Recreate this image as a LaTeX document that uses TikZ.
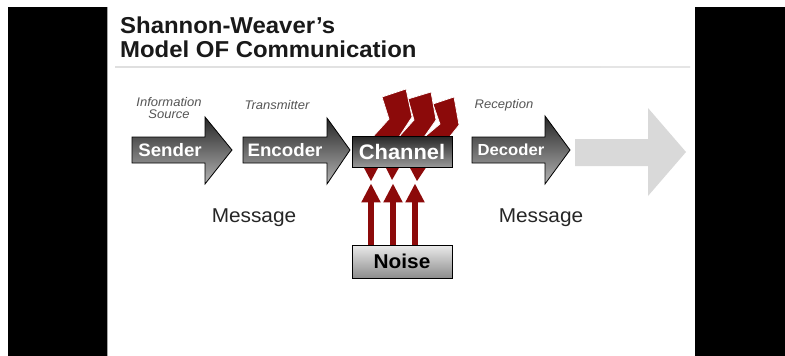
\documentclass[tikz,border=0pt]{standalone}
\usepackage{fontspec}
\setmainfont{Liberation Sans}[FakeStretch=1.04]
\usetikzlibrary{arrows.meta}

\definecolor{boltred}{RGB}{140,10,10}
\definecolor{rolegray}{RGB}{85,85,85}
\definecolor{ghost}{RGB}{217,217,217}

\tikzset{
  darkarrow/.style={draw=black,line width=0.8pt,line join=miter,top color=black!85,bottom color=black!30},
  steptext/.style={text=white,font=\bfseries\fontsize{18pt}{20pt}\selectfont,inner sep=0pt},
  role/.style={text=rolegray,font=\itshape\fontsize{12.5pt}{12pt}\selectfont,inner sep=0pt},
  msg/.style={text=black!85,font=\fontsize{20pt}{22pt}\selectfont,inner sep=0pt},
  bolt/.style={fill=boltred,draw=white,line width=0.7pt,line join=miter},
  noisearrow/.style={draw=boltred,line width=6pt,-{Triangle[width=18pt,length=19pt]},shorten >=16pt},
}

\begin{document}
\begin{tikzpicture}[x=1pt,y=-1pt]
  \useasboundingbox (0,0) rectangle (785,356);
  \fill[white] (0,0) rectangle (785,356);
  \fill[black] (8,7) rectangle (107,356);
  \fill[black] (695,7) rectangle (785,356);
  \draw[gray!70,line width=0.8pt] (107.5,7) -- (107.5,356);

  % title
  \node[anchor=base west,align=left,inner sep=0pt,text=black!90,
        font=\bfseries\fontsize{23pt}{23.4pt}\selectfont] (Title) at (120,57)
        {Shannon-Weaver’s\\Model OF Communication};
  \shade[left color=gray!25,middle color=gray!75,right color=gray!20] (115,66.3) rectangle (690,67.7);

  % role labels
  \node[role,align=center] (Source) at (169,108) {Information\\Source};
  \node[role,anchor=base] (Transmitter) at (277,109) {Transmitter};
  \node[role,anchor=base] (Reception) at (504,108) {Reception};

  % arrows
  \draw[darkarrow] (132,137) -- (205,137) -- (205,117) -- (232,150) -- (205,184) -- (205,163) -- (132,163) -- cycle;
  \node[steptext] (Sender) at (170,150) {Sender};
  \draw[darkarrow] (243,137) -- (327,137) -- (327,118) -- (350,150) -- (327,184) -- (327,163) -- (243,163) -- cycle;
  \node[steptext] (Encoder) at (285,150) {Encoder};
  \draw[darkarrow] (472,137) -- (545,137) -- (545,116) -- (570,150) -- (545,184) -- (545,163) -- (472,163) -- cycle;
  \node[steptext,font=\bfseries\fontsize{16pt}{18pt}\selectfont] (Decoder) at (511,150) {Decoder};
  \fill[ghost] (575,139) -- (648,139) -- (648,108) -- (686,152) -- (648,196) -- (648,166) -- (575,166) -- cycle;

  % noise bolts
  \draw[bolt] (433,104) -- (454,97) -- (459,125) -- (447,140) -- (421,140) -- (440,124) -- cycle;
  \draw[bolt] (408,99) -- (431,92) -- (436,120) -- (422,140) -- (396,140) -- (414,120) -- cycle;
  \draw[bolt] (382,97) -- (406,89) -- (412,117) -- (397,140) -- (370,140) -- (389,119) -- cycle;
  \fill[boltred] (363,166) -- (379,166) -- (371,181) -- cycle;
  \fill[boltred] (385,166) -- (400,166) -- (392,180) -- cycle;
  \fill[boltred] (409,166) -- (427,166) -- (417,181) -- cycle;

  \node[draw=black,line width=0.8pt,top color=black!85,bottom color=black!40,
        minimum width=100pt,minimum height=31pt,inner sep=0pt,text=white,
        font=\bfseries\fontsize{21pt}{23pt}\selectfont] (Channel) at (402,151.5) {Channel};

  \node[draw=black,line width=0.8pt,top color=black!8,bottom color=black!45,
        minimum width=100pt,minimum height=33pt,inner sep=0pt,
        font=\bfseries\fontsize{20pt}{22pt}\selectfont] (Noise) at (402,261.5) {Noise};

  \draw[noisearrow] ([xshift=-31pt]Noise.north) -- ([xshift=-31pt]Channel.south);
  \draw[noisearrow] ([xshift=-9pt]Noise.north) -- ([xshift=-9pt]Channel.south);
  \draw[noisearrow] ([xshift=13pt]Noise.north) -- ([xshift=13pt]Channel.south);

  % messages
  \node[msg,anchor=base] (MsgLeft) at (254,222) {Message};
  \node[msg,anchor=base] (MsgRight) at (541,222) {Message};
\end{tikzpicture}
\end{document}
